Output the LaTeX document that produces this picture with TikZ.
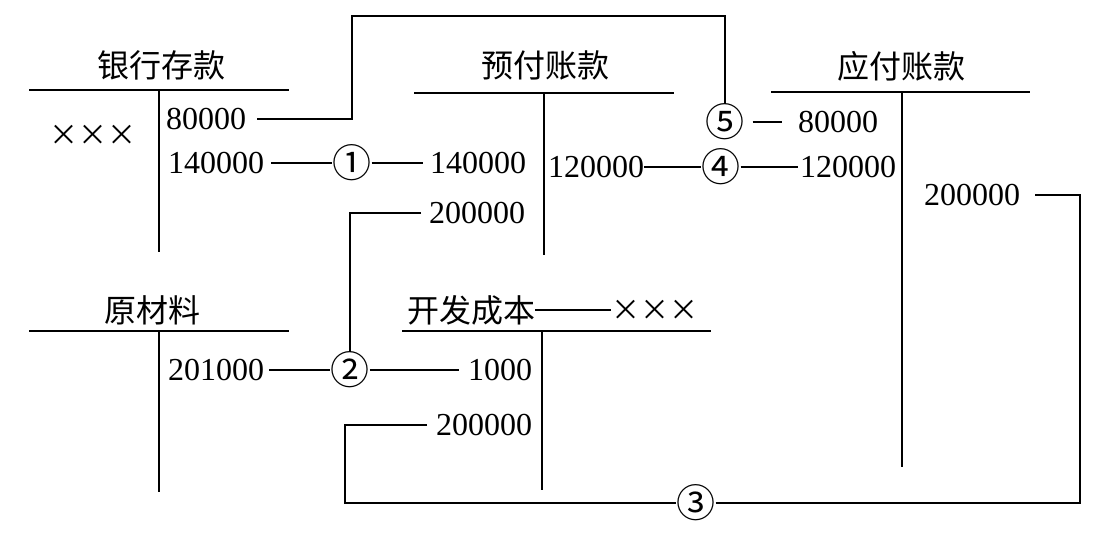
\documentclass[tikz,border=0pt]{standalone}
\usepackage{fontspec}
\setmainfont{Liberation Serif}
\newfontfamily\cjk{Noto Sans CJK SC}
\tikzset{
  num/.style={inner sep=0pt, font=\fontsize{32}{36}\selectfont, anchor=west},
  ttl/.style={inner sep=0pt, font=\cjk\fontsize{32}{38}\selectfont},
  circ/.style={inner sep=0pt, font=\cjk\fontsize{39}{42}\selectfont},
  xs/.style={inner sep=0pt, font=\cjk\fontsize{29}{32}\selectfont},
  ln/.style={line width=1.5pt},
}
\begin{document}
\begin{tikzpicture}[x=1pt,y=-1pt]
\useasboundingbox (0,0) rectangle (1114,539);
% 银行存款
\node[ttl] (tBank) at (161,65) {银行存款};
\draw[ln] (29,90) -- (289,90) (159,90) -- (159,252);
\node[xs] (bx) at (93,135) {×××};
\node[num] (b80) at (166,119) {80000};
\node[num] (b140) at (168,163) {140000};
% 预付账款
\node[ttl] (tPre) at (545,65) {预付账款};
\draw[ln] (414,93) -- (674,93) (544,93) -- (544,255);
\node[num] (p140) at (430,163) {140000};
\node[num] (p200) at (429,213) {200000};
\node[num] (p120) at (548,167) {120000};
% 应付账款
\node[ttl] (tPay) at (901,66) {应付账款};
\draw[ln] (771,92) -- (1030,92) (902,92) -- (902,467);
\node[num] (a80) at (798,122) {80000};
\node[num] (a120) at (800,167) {120000};
\node[num] (a200) at (924,195) {200000};
% 原材料
\node[ttl] (tRaw) at (152,310) {原材料};
\draw[ln] (29,331) -- (289,331) (159,331) -- (159,492);
\node[num] (r201) at (168,370) {201000};
% 开发成本
\node[ttl,anchor=west] (tDev) at (407,310) {开发成本};
\node[xs] (dx) at (655,310) {×××};
\draw[ln] (402,331) -- (711,331) (542,331) -- (542,490);
\node[num] (d1000) at (468,370) {1000};
\node[num] (d200) at (436,425) {200000};
% circled numbers
\node[circ] (c1) at (352,163) {①};
\node[circ] (c2) at (350,370) {②};
\node[circ] (c3) at (696,503) {③};
\node[circ] (c4) at (721,167) {④};
\node[circ] (c5) at (725,122) {⑤};
% corner coordinates
\coordinate (k1) at (352,16);
\coordinate (k3a) at (345,503);
\coordinate (k3b) at (1080,503);
% connectors
\draw[ln,shorten <=11pt] (b80.east) -| (k1) -| (c5.north);
\draw[ln,shorten <=8pt,shorten >=16pt] (c5.east) -- (a80.west);
\draw[ln,shorten <=7pt] (b140.east) -- (c1.west);
\draw[ln,shorten >=7pt] (c1.east) -- (p140.west);
\draw[ln,shorten <=8pt] (p200.west) -| (c2.north);
\draw[ln,shorten <=5pt] (r201.east) -- (c2.west);
\draw[ln,shorten >=9pt] (c2.east) -- (d1000.west);
\draw[ln,shorten <=9pt] (d200.west) -| (k3a) -- (c3.west);
\draw[ln,shorten >=15pt] (c3.east) -- (k3b) |- (a200.east);
\draw[ln] (p120.east) -- (c4.west);
\draw[ln,shorten >=2pt] (c4.east) -- (a120.west);
\draw[ln] (tDev.east) -- (dx.west);
\end{tikzpicture}
\end{document}
